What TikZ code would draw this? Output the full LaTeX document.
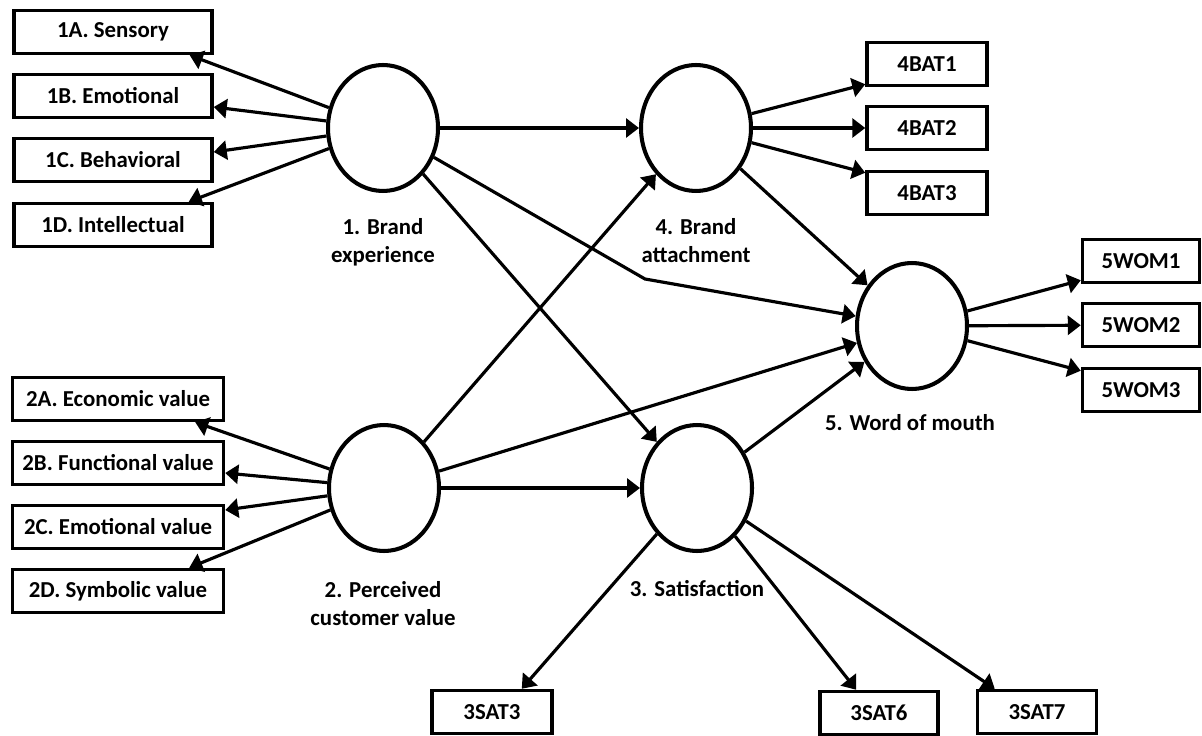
\documentclass[tikz,border=0pt]{standalone}
\usepackage{fontspec}
\setmainfont{Carlito}
\usetikzlibrary{shapes.geometric,arrows.meta}
\begin{document}
\begin{tikzpicture}[x=0.02cm, y=-0.02cm,
  every node/.style={font=\bfseries\fontsize{13}{16}\selectfont},
  ind/.style={draw, line width=2pt, minimum height=0.86cm, inner sep=2pt},
  lat/.style={ellipse, draw, line width=2.3pt, minimum width=2.2cm, minimum height=2.52cm},
  arr/.style={line width=1.8pt, -{Triangle[length=0.26cm,width=0.38cm]}}]
\useasboundingbox (0,0) rectangle (1202,736);

\node [lat] (be) at (383,128) {};
\node [lat] (ba) at (696,128) {};
\node [lat] (wom) at (912,326) {};
\node [lat] (pcv) at (384,488) {};
\node [lat] (sat) at (697,488) {};

\node [align=center] (lbe) at (383,242) {1. Brand\\experience};
\node [align=center] (lba) at (696,241) {4. Brand\\attachment};
\node (lwom) at (910,423) {5. Word of mouth};
\node [align=center] (lpcv) at (383,604) {2. Perceived\\customer value};
\node (lsat) at (697,589) {3. Satisfaction};

\node [ind, minimum width=3.96cm] (s1a) at (113,32) {1A. Sensory};
\node [ind, minimum width=3.96cm] (s1b) at (113,96) {1B. Emotional};
\node [ind, minimum width=3.96cm] (s1c) at (113,160) {1C. Behavioral};
\node [ind, minimum width=3.96cm] (s1d) at (113,225) {1D. Intellectual};

\node [ind, minimum width=4.22cm] (s2a) at (118,399) {2A. Economic value};
\node [ind, minimum width=4.22cm] (s2b) at (118,463) {2B. Functional value};
\node [ind, minimum width=4.22cm] (s2c) at (118,527) {2C. Emotional value};
\node [ind, minimum width=4.22cm] (s2d) at (118,591) {2D. Symbolic value};

\node [ind, minimum width=2.4cm] (b41) at (927,64) {4BAT1};
\node [ind, minimum width=2.4cm] (b42) at (927,128) {4BAT2};
\node [ind, minimum width=2.4cm] (b43) at (927,193) {4BAT3};

\node [ind, minimum width=2.34cm] (w1) at (1141,261) {5WOM1};
\node [ind, minimum width=2.34cm] (w2) at (1141,325) {5WOM2};
\node [ind, minimum width=2.34cm] (w3) at (1141,390) {5WOM3};

\node [ind, minimum width=2.4cm] (s3) at (492,712) {3SAT3};
\node [ind, minimum width=2.36cm] (s6) at (879,713) {3SAT6};
\node [ind, minimum width=2.38cm] (s7) at (1037,712) {3SAT7};

\coordinate (bend) at (645,279);

\draw [arr] (be) -- ([xshift=-0.48cm]s1a.south east);
\draw [arr] (be) -- ([yshift=-0.22cm]s1b.east);
\draw [arr] (be) -- ([yshift=0.16cm]s1c.east);
\draw [arr] (be) -- ([xshift=-0.5cm]s1d.north east);

\draw [arr] (pcv) -- ([xshift=-0.6cm]s2a.south east);
\draw [arr] (pcv) -- ([yshift=-0.2cm]s2b.east);
\draw [arr] (pcv) -- ([yshift=0.34cm]s2c.east);
\draw [arr] (pcv) -- ([xshift=-0.72cm]s2d.north east);

\draw [arr] (ba) -- ([yshift=0.06cm]b41.south west);
\draw [arr] (ba) -- (b42);
\draw [arr] (ba) -- ([yshift=-0.06cm]b43.north west);

\draw [arr] (wom) -- ([yshift=0.08cm]w1.south west);
\draw [arr] (wom) -- (w2);
\draw [arr] (wom) -- ([yshift=-0.08cm]w3.north west);

\draw [arr] (sat) -- ([xshift=-0.64cm]s3.north east);
\draw [arr] (sat) -- ([xshift=0.76cm]s6.north west);
\draw [arr] (sat) -- ([xshift=0.38cm]s7.north west);

\draw [arr] (be) -- (ba);
\draw [arr] (be) -- (sat);
\draw [arr] (be) -- (bend) -- (wom);
\draw [arr] (pcv) -- (ba);
\draw [arr] (pcv) -- (sat);
\draw [arr] (pcv) -- (wom);
\draw [arr] (ba) -- (wom);
\draw [arr] (sat) -- (wom);
\end{tikzpicture}
\end{document}
